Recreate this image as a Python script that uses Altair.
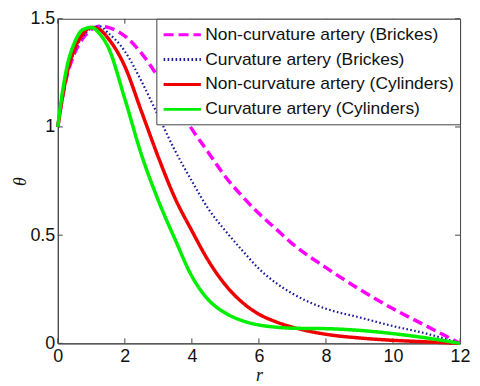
import altair as alt
import pandas as pd

r_vals = [0, 0.1, 0.25, 0.5, 0.75, 1.0, 1.25, 1.5, 2, 2.5, 3, 3.5, 4, 4.5, 5, 5.5, 6, 6.5, 7, 8, 9, 10, 11, 12]

noncurv_bricks = [1.0, 1.1, 1.22, 1.34, 1.41, 1.45, 1.465, 1.46, 1.42, 1.34, 1.23, 1.11, 0.99, 0.88, 0.77, 0.68, 0.60, 0.53, 0.46, 0.35, 0.25, 0.16, 0.08, 0.0]
curv_bricks = [1.0, 1.1, 1.23, 1.35, 1.42, 1.455, 1.465, 1.435, 1.35, 1.21, 1.05, 0.89, 0.75, 0.62, 0.52, 0.43, 0.345, 0.28, 0.23, 0.16, 0.12, 0.08, 0.045, 0.0]
noncurv_cyl = [1.0, 1.1, 1.23, 1.36, 1.43, 1.46, 1.45, 1.41, 1.28, 1.07, 0.86, 0.67, 0.52, 0.38, 0.27, 0.19, 0.135, 0.1, 0.075, 0.042, 0.025, 0.014, 0.007, 0.0]
curv_cyl = [1.0, 1.12, 1.26, 1.39, 1.45, 1.46, 1.43, 1.37, 1.13, 0.87, 0.66, 0.48, 0.31, 0.2, 0.14, 0.105, 0.085, 0.075, 0.07, 0.068, 0.06, 0.045, 0.025, 0.0]

series_names = [
    "Non-curvature artery (Brickes)",
    "Curvature artery (Brickes)",
    "Non-curvature artery (Cylinders)",
    "Curvature artery (Cylinders)",
]
series_values = [noncurv_bricks, curv_bricks, noncurv_cyl, curv_cyl]
series_colors = ["#ff00ff", "#1a1a9c", "#ee0000", "#00ee00"]
series_dash = [[10, 5], [1.6, 2.4], [1, 0], [1, 0]]
series_width = [3.5, 2.2, 3.5, 3.5]

x_ticks = [0, 2, 4, 6, 8, 10, 12]
y_ticks = [0, 0.5, 1, 1.5]

rows = []
for si, (name, vals) in enumerate(zip(series_names, series_values)):
    for x, y in zip(r_vals, vals):
        rows.append({"r": x, "theta": y, "series": name, "order": si, "sw": series_width[si]})
df = pd.DataFrame(rows)

W, H = 404, 326
xscale = alt.Scale(domain=[0, 12], nice=False, zero=False)
yscale = alt.Scale(domain=[0, 1.5], nice=False, zero=False)
x_axis = alt.Axis(values=x_ticks, format="d", title="r", grid=False, labelFlush=False,
                  tickSize=0, labelPadding=4, titlePadding=1)
y_axis = alt.Axis(values=y_ticks, format="~g", title="θ", grid=False, labelFlush=False,
                  tickSize=0, labelPadding=3, titlePadding=0)

lines = alt.Chart(df).mark_line(interpolate="monotone").encode(
    x=alt.X("r:Q", scale=xscale, axis=x_axis, title="r"),
    y=alt.Y("theta:Q", scale=yscale, axis=y_axis, title="θ"),
    color=alt.Color("series:N", scale=alt.Scale(domain=series_names, range=series_colors),
                    legend=alt.Legend(title=None)),
    strokeDash=alt.StrokeDash("series:N", scale=alt.Scale(domain=series_names, range=series_dash),
                              legend=alt.Legend(title=None)),
    strokeWidth=alt.StrokeWidth("sw:Q", scale=None),
    order=alt.Order("order:Q"),
)

xt = pd.DataFrame({"r": x_ticks})
yt = pd.DataFrame({"theta": y_ticks})

bottom_ticks = alt.Chart(xt).mark_rule(color="#444", strokeWidth=1).encode(
    x=alt.X("r:Q", scale=xscale, axis=x_axis, title="r"), y=alt.value(H), y2=alt.value(H - 5))
top_ticks = alt.Chart(xt).mark_rule(color="#444", strokeWidth=1).encode(
    x=alt.X("r:Q", scale=xscale, axis=x_axis, title="r"), y=alt.value(0), y2=alt.value(5))
left_ticks = alt.Chart(yt).mark_rule(color="#444", strokeWidth=1).encode(
    y=alt.Y("theta:Q", scale=yscale, axis=y_axis, title="θ"), x=alt.value(0), x2=alt.value(5))
right_ticks = alt.Chart(yt).mark_rule(color="#444", strokeWidth=1).encode(
    y=alt.Y("theta:Q", scale=yscale, axis=y_axis, title="θ"), x=alt.value(W), x2=alt.value(W - 5))

chart = alt.layer(bottom_ticks, top_ticks, left_ticks, right_ticks, lines).properties(
    width=W, height=H,
    autosize=alt.AutoSizeParams(type="none"),
    padding={"left": 50, "top": 10, "right": 12, "bottom": 40},
).configure_view(
    stroke="#444", strokeWidth=1
).configure_axis(
    domainColor="#444", domainWidth=1,
    labelFont="Liberation Sans", labelFontSize=18, labelColor="#111",
    titleFont="Liberation Serif", titleFontStyle="italic", titleFontWeight="normal",
    titleFontSize=18, titleColor="#111",
).configure_legend(
    orient="top-right", offset=0, padding=6,
    strokeColor="#444", fillColor="white",
    labelFont="Liberation Sans", labelFontSize=17.5, labelColor="#111", labelLimit=400,
    symbolType="M-2.2,0H2.2", symbolSize=289, symbolStrokeWidth=3,
    symbolOffset=10, labelOffset=13, rowPadding=6,
)

chart.save("out.html", embed_options={"renderer": "svg", "actions": False})
